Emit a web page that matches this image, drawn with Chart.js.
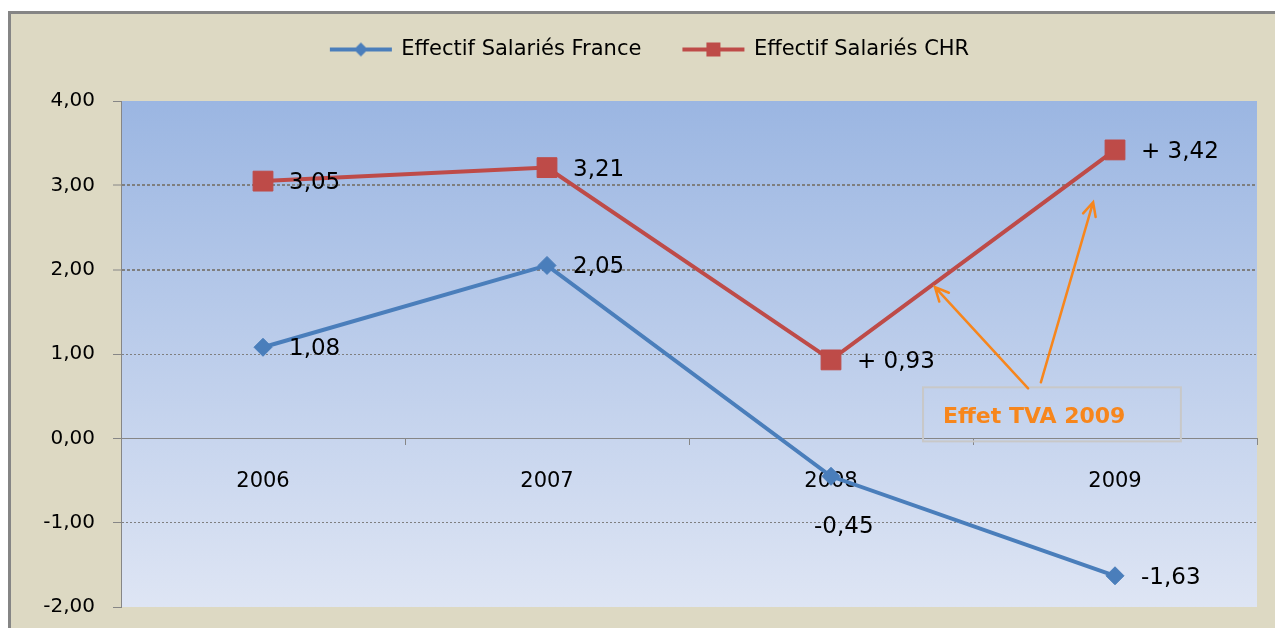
<!DOCTYPE html>
<html>
<head>
<meta charset="utf-8">
<script src="https://cdn.jsdelivr.net/npm/chart.js@4.4.0/dist/chart.umd.min.js"></script>
<style>
  html, body { margin: 0; padding: 0; background: #fff; overflow: hidden; }
  #cadre { position: absolute; left: 8px; top: 11px; width: 1264px; height: 614px;
    border-left: 3px solid #858585; border-top: 3px solid #858585; background: #DDD9C3; }
  canvas { display: block; }
</style>
</head>
<body>
<div id="cadre"><canvas id="graphique" width="1264" height="614"></canvas></div>
<script>
// Données
const annees = ['2006', '2007', '2008', '2009'];
const effectifFrance = [1.08, 2.05, -0.45, -1.63];
const effectifCHR = [3.05, 3.21, 0.93, 3.42];
const etiquettesFrance = ['1,08', '2,05', '-0,45', '-1,63'];
const etiquettesCHR = ['3,05', '3,21', '+ 0,93', '+ 3,42'];
const placementFrance = ['droite', 'droite', 'dessous', 'droite'];
const placementCHR = ['droite', 'droite', 'droite', 'droite'];

// Annotation "Effet TVA 2009" (en coordonnées des axes)
const annotationTexte = 'Effet TVA 2009';
const cadreAnnotation = { x1: 2.324, x2: 3.232, y1: 0.605, y2: -0.036 };
const flechesAnnotation = [
  [2.694, 0.593, 2.366, 1.792],
  [2.739, 0.664, 2.923, 2.800]
];

const BLEU = '#4A7EBB', ROUGE = '#BE4B48', ORANGE = '#F7861C', GRIS = '#868686';
const POLICE = 'DejaVu Sans';

function icone(couleur, forme) {
  const c = document.createElement('canvas');
  c.width = 102; c.height = 20;
  const g = c.getContext('2d');
  g.strokeStyle = couleur; g.fillStyle = couleur; g.lineWidth = 4;
  g.beginPath(); g.moveTo(36, 10); g.lineTo(98, 10); g.stroke();
  if (forme === 'losange') {
    g.beginPath(); g.moveTo(67, 3); g.lineTo(74, 10); g.lineTo(67, 17); g.lineTo(60, 10); g.closePath(); g.fill();
  } else {
    g.fillRect(60, 3, 14, 14);
  }
  return c;
}
const iconesLegende = [icone(BLEU, 'losange'), icone(ROUGE, 'carre')];

const fondPlugin = {
  id: 'fond',
  beforeDraw(chart) {
    const { ctx, chartArea: a } = chart;
    const grad = ctx.createLinearGradient(0, a.top, 0, a.bottom);
    grad.addColorStop(0, '#9BB6E2');
    grad.addColorStop(1, '#DEE5F4');
    ctx.save();
    ctx.fillStyle = grad;
    ctx.fillRect(a.left, a.top, a.right - a.left, a.bottom - a.top);
    ctx.restore();
  }
};

const etiquettesPlugin = {
  id: 'etiquettes',
  afterDatasetsDraw(chart) {
    const ctx = chart.ctx;
    ctx.save();
    ctx.font = '23px "' + POLICE + '"';
    ctx.fillStyle = '#000';
    ctx.textBaseline = 'middle';
    ctx.textAlign = 'left';
    [[etiquettesFrance, placementFrance], [etiquettesCHR, placementCHR]].forEach(([txt, pl], d) => {
      chart.getDatasetMeta(d).data.forEach((pt, i) => {
        if (pl[i] === 'dessous') ctx.fillText(txt[i], pt.x - 17, pt.y + 51);
        else ctx.fillText(txt[i], pt.x + 26, pt.y + 2);
      });
    });
    ctx.restore();
  }
};

function fleche(ctx, x1, y1, x2, y2) {
  const ang = Math.atan2(y2 - y1, x2 - x1), l = 15, ouv = 0.45;
  ctx.beginPath();
  ctx.moveTo(x1, y1); ctx.lineTo(x2, y2);
  ctx.moveTo(x2 - l * Math.cos(ang - ouv), y2 - l * Math.sin(ang - ouv));
  ctx.lineTo(x2, y2);
  ctx.lineTo(x2 - l * Math.cos(ang + ouv), y2 - l * Math.sin(ang + ouv));
  ctx.stroke();
}

const annotationPlugin = {
  id: 'annotation',
  afterDraw(chart) {
    const { ctx, scales: { x, y } } = chart;
    const bx1 = x.getPixelForValue(cadreAnnotation.x1), bx2 = x.getPixelForValue(cadreAnnotation.x2);
    const by1 = y.getPixelForValue(cadreAnnotation.y1), by2 = y.getPixelForValue(cadreAnnotation.y2);
    ctx.save();
    ctx.strokeStyle = '#C8C8C8'; ctx.lineWidth = 2;
    ctx.strokeRect(bx1, by1, bx2 - bx1, by2 - by1);
    ctx.fillStyle = ORANGE;
    ctx.font = 'bold 22px "' + POLICE + '"';
    ctx.textBaseline = 'alphabetic'; ctx.textAlign = 'left';
    ctx.fillText(annotationTexte, bx1 + 20, by1 + 36);
    ctx.strokeStyle = ORANGE; ctx.lineWidth = 2.5; ctx.lineCap = 'round';
    flechesAnnotation.forEach(f => {
      fleche(ctx, x.getPixelForValue(f[0]), y.getPixelForValue(f[1]), x.getPixelForValue(f[2]), y.getPixelForValue(f[3]));
    });
    ctx.restore();
  }
};

function styleGrille(v) {
  if (v === 4 || v === -2) return { couleur: 'rgba(0,0,0,0)', epaisseur: 1, tirets: [] };
  if (v === 0) return { couleur: GRIS, epaisseur: 1, tirets: [] };
  if (v === 3 || v === 2) return { couleur: '#7F7F7F', epaisseur: 2, tirets: [3, 2] };
  return { couleur: '#7F7F7F', epaisseur: 1, tirets: [2, 2] };
}

new Chart(document.getElementById('graphique'), {
  type: 'line',
  data: {
    labels: annees,
    datasets: [
      {
        label: 'Effectif Salariés France', data: effectifFrance, xAxisID: 'x', yAxisID: 'y',
        borderColor: BLEU, backgroundColor: BLEU, borderWidth: 4,
        pointStyle: 'rectRot', pointRadius: 9, pointBorderWidth: 1, tension: 0
      },
      {
        label: 'Effectif Salariés CHR', data: effectifCHR, xAxisID: 'x', yAxisID: 'y',
        borderColor: ROUGE, backgroundColor: ROUGE, borderWidth: 4,
        pointStyle: 'rect', pointRadius: 14, pointBorderWidth: 1, tension: 0
      }
    ]
  },
  options: {
    responsive: false,
    animation: false,
    layout: { padding: { top: 15, right: 18, bottom: 21, left: 0 } },
    scales: {
      x: {
        type: 'category', position: { y: 0 }, offset: true, z: 1,
        grid: { drawOnChartArea: false, drawTicks: true, tickLength: 6, offset: true, color: GRIS, tickColor: GRIS, tickWidth: 1 },
        border: { display: true, color: GRIS, width: 1 },
        ticks: { font: { family: POLICE, size: 21 }, color: '#000', padding: 25, maxRotation: 0 }
      },
      xHaut: {
        type: 'category', position: 'top', labels: annees,
        grid: { display: false }, border: { display: false }, ticks: { display: false },
        afterFit(s) { s.height = 31; }
      },
      y: {
        min: -2, max: 4, position: 'left',
        afterFit(s) { s.width = 110; s.paddingTop = 0; s.paddingBottom = 0; },
        ticks: {
          stepSize: 1, padding: 18, color: '#000', font: { family: POLICE, size: 20 },
          callback: v => v.toFixed(2).replace('.', ',')
        },
        grid: {
          color: c => styleGrille(c.tick ? c.tick.value : 0).couleur,
          lineWidth: c => styleGrille(c.tick ? c.tick.value : 0).epaisseur,
          tickColor: GRIS, tickLength: 8, tickWidth: 1
        },
        border: { display: true, color: GRIS, width: 1, dash: c => styleGrille(c.tick ? c.tick.value : 0).tirets }
      }
    },
    plugins: {
      tooltip: { enabled: false },
      legend: {
        position: 'top',
        labels: {
          usePointStyle: true, pointStyleWidth: 92, padding: 10, color: '#000',
          font: { family: POLICE, size: 21 },
          generateLabels(chart) {
            const items = Chart.defaults.plugins.legend.labels.generateLabels(chart);
            items.forEach((it, i) => { it.pointStyle = iconesLegende[i]; });
            return items;
          }
        }
      }
    }
  },
  plugins: [fondPlugin, etiquettesPlugin, annotationPlugin]
});
</script>
</body>
</html>
